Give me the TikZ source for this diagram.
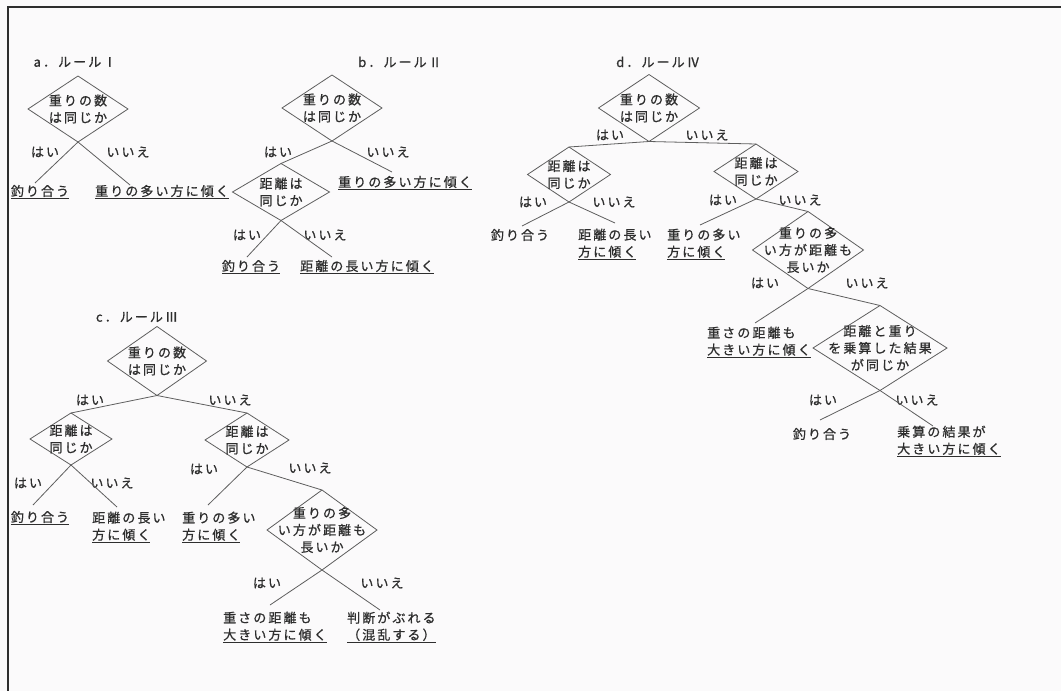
\documentclass[tikz,border=0pt]{standalone}
\usepackage{fontspec}
\newfontfamily\jp[LetterSpace=16,FakeBold=0.8]{Noto Sans CJK JP}
\usetikzlibrary{shapes.geometric}
\definecolor{ink}{HTML}{2E2E2E}
\definecolor{ln}{HTML}{5E5E5E}
\definecolor{paper}{HTML}{FBFAFB}
\tikzset{
 txt/.style={font=\jp\fontsize{13}{17}\selectfont, text=ink, inner sep=0pt},
 lbl/.style={txt, anchor=center},
 leaf/.style={txt, align=left, anchor=north west},
 dmd/.style={diamond, draw=ln, line width=0.8pt, inner sep=0pt, outer sep=0pt},
 dtxt/.style={txt, align=center},
 conn/.style={draw=ln, line width=0.8pt},
 frameline/.style={draw=ink, line width=1.4pt},
}
\begin{document}
\begin{tikzpicture}[x=1pt,y=-1pt]
\fill[paper] (0,0) rectangle (1061,691);
\useasboundingbox (0,0) rectangle (1061,691);
\coordinate (fTL) at (8,7); \coordinate (fTR) at (1061,7); \coordinate (fBL) at (8,691);
\draw[frameline] (fTR) -- (fTL) -- (fBL);

% ---------- a
\node[lbl] (ta) at (75,62) {a．ルールⅠ};
\node[dmd, minimum width=100pt, minimum height=66pt, label={[dtxt]center:{重りの数\\は同じか}}] (a0) at (78,109) {};
\node[lbl] (ay) at (45,152) {はい};
\node[lbl] (an) at (128,152) {いいえ};
\node[lbl] (a1) at (40,192) {\underline{釣り合う}};
\node[lbl] (a2) at (162,192) {\underline{重りの多い方に傾く}};
\coordinate (a1t) at (35,183); \coordinate (a2t) at (130,185);
\draw[conn] (a0.south) -- (a1t);
\draw[conn] (a0.south) -- (a2t);

% ---------- b
\node[lbl] (tb) at (400,62) {b．ルールⅡ};
\node[dmd, minimum width=100pt, minimum height=66pt, label={[dtxt]center:{重りの数\\は同じか}}] (b0) at (332,108) {};
\node[lbl] (by) at (278,152) {はい};
\node[lbl] (bn) at (388,152) {いいえ};
\node[dmd, minimum width=97pt, minimum height=57pt, label={[dtxt]center:{距離は\\同じか}}] (b1) at (281,192) {};
\node[lbl] (b2) at (405,183) {\underline{重りの多い方に傾く}};
\coordinate (b2t) at (392,172);
\draw[conn] (b0.south) -- (b1.north);
\draw[conn] (b0.south) -- (b2t);
\node[lbl] (b1y) at (247,235) {はい};
\node[lbl] (b1n) at (325,235) {いいえ};
\node[lbl] (b3) at (251,267) {\underline{釣り合う}};
\node[lbl] (b4) at (367,267) {\underline{距離の長い方に傾く}};
\coordinate (b3t) at (247,257); \coordinate (b4t) at (332,257);
\draw[conn] (b1.south) -- (b3t);
\draw[conn] (b1.south) -- (b4t);

% ---------- c
\node[lbl] (tc) at (137,317) {c．ルールⅢ};
\node[dmd, minimum width=99pt, minimum height=69pt, label={[dtxt]center:{重りの数\\は同じか}}] (c0) at (157,361) {};
\node[lbl] (cy) at (90,400) {はい};
\node[lbl] (cn) at (230,400) {いいえ};
\node[dmd, minimum width=82pt, minimum height=52pt, label={[dtxt]center:{距離は\\同じか}}] (c1) at (71,439) {};
\node[dmd, minimum width=84pt, minimum height=54pt, label={[dtxt]center:{距離は\\同じか}}] (c2) at (247,440) {};
\draw[conn] (c0.south) -- (c1.north);
\draw[conn] (c0.south) -- (c2.north);
\node[lbl] (c1y) at (28,483) {はい};
\node[lbl] (c1n) at (112,483) {いいえ};
\node[lbl] (c3) at (40,518) {\underline{釣り合う}};
\node[leaf] (c4) at (92,511.5) {距離の長い\\\underline{方に傾く}};
\coordinate (c3t) at (33,505); \coordinate (c4t) at (117,507);
\draw[conn] (c1.south) -- (c3t);
\draw[conn] (c1.south) -- (c4t);
\node[lbl] (c2y) at (204,469) {はい};
\node[lbl] (c2n) at (310,468) {いいえ};
\node[leaf] (c5) at (182,511.5) {重りの多い\\\underline{方に傾く}};
\coordinate (c5t) at (208,505);
\node[dmd, minimum width=110pt, minimum height=80pt, label={[dtxt]center:{重りの多\\い方が距離も\\長いか}}] (c6) at (322,530) {};
\draw[conn] (c2.south) -- (c5t);
\draw[conn] (c2.south) -- (c6.north);
\node[lbl] (c6y) at (267,583) {はい};
\node[lbl] (c6n) at (382,583) {いいえ};
\node[leaf] (c7) at (223,611.5) {重さの距離も\\\underline{大きい方に傾く}};
\node[leaf] (c8) at (347,611.5) {判断がぶれる\\\underline{（混乱する）}};
\coordinate (c7t) at (270,605); \coordinate (c8t) at (380,610);
\draw[conn] (c6.south) -- (c7t);
\draw[conn] (c6.south) -- (c8t);

% ---------- d
\node[lbl] (td) at (658,62) {d．ルールⅣ};
\node[dmd, minimum width=101pt, minimum height=67pt, label={[dtxt]center:{重りの数\\は同じか}}] (d0) at (649,108) {};
\node[lbl] (dy) at (610,135) {はい};
\node[lbl] (dn) at (707,135) {いいえ};
\node[dmd, minimum width=83pt, minimum height=55pt, label={[dtxt]center:{距離は\\同じか}}] (d1) at (569,174.5) {};
\node[dmd, minimum width=84pt, minimum height=55pt, label={[dtxt]center:{距離は\\同じか}}] (d2) at (756,171.5) {};
\draw[conn] (d0.south) -- (d1.north);
\draw[conn] (d0.south) -- (d2.north);
\node[lbl] (d1y) at (533,202) {はい};
\node[lbl] (d1n) at (614,202) {いいえ};
\node[lbl] (d3) at (520,235) {釣り合う};
\node[leaf] (d4) at (578,228.5) {距離の長い\\\underline{方に傾く}};
\coordinate (d3t) at (522,226); \coordinate (d4t) at (615,223);
\draw[conn] (d1.south) -- (d3t);
\draw[conn] (d1.south) -- (d4t);
\node[lbl] (d2y) at (723,200) {はい};
\node[lbl] (d2n) at (800,200) {いいえ};
\node[leaf] (d5) at (667,228.5) {重りの多い\\\underline{方に傾く}};
\coordinate (d5t) at (700,225);
\node[dmd, minimum width=111pt, minimum height=77pt, label={[dtxt]center:{重りの多\\い方が距離も\\長いか}}] (d6) at (808,250) {};
\draw[conn] (d2.south) -- (d5t);
\draw[conn] (d2.south) -- (d6.north);
\node[lbl] (d6y) at (765,283) {はい};
\node[lbl] (d6n) at (867,283) {いいえ};
\node[leaf] (d7) at (707,326.5) {重さの距離も\\\underline{大きい方に傾く}};
\coordinate (d7t) at (755,323);
\node[dmd, minimum width=134pt, minimum height=85pt, label={[dtxt]center:{距離と重り\\を乗算した結果\\が同じか}}] (d8) at (880,348) {};
\draw[conn] (d6.south) -- (d7t);
\draw[conn] (d6.south) -- (d8.north);
\node[lbl] (d8y) at (823,400) {はい};
\node[lbl] (d8n) at (917,400) {いいえ};
\node[lbl] (d9) at (822,434) {釣り合う};
\node[leaf] (d10) at (897,425.5) {乗算の結果が\\\underline{大きい方に傾く}};
\coordinate (d9t) at (820,420); \coordinate (d10t) at (933,426);
\draw[conn] (d8.south) -- (d9t);
\draw[conn] (d8.south) -- (d10t);
\end{tikzpicture}
\end{document}
